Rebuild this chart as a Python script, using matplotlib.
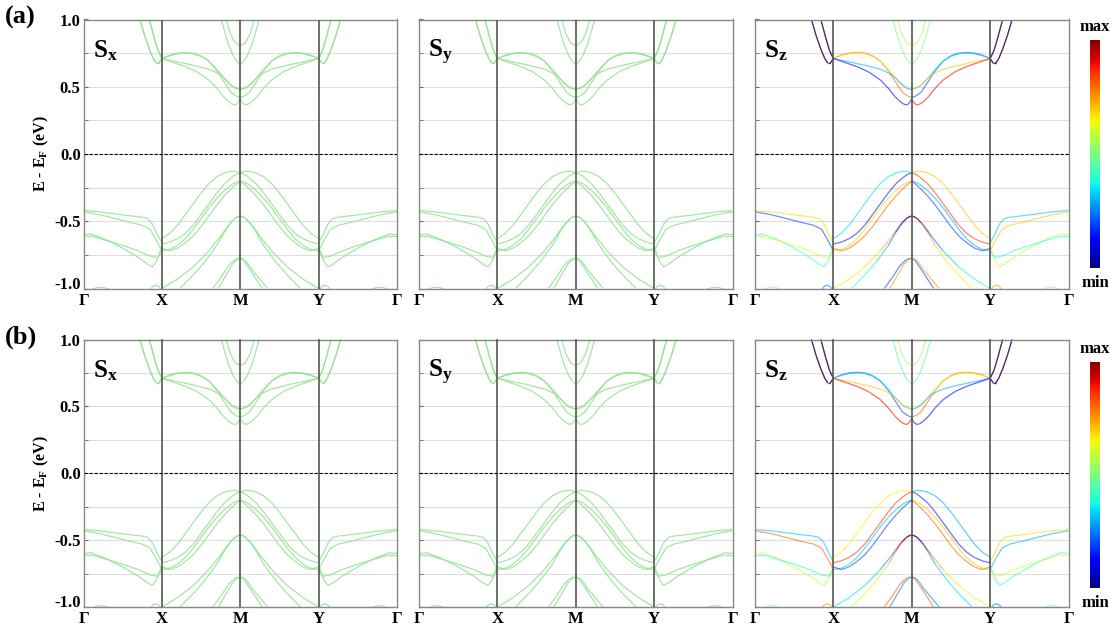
import numpy as np
import matplotlib
matplotlib.use('Agg')
import matplotlib.pyplot as plt
import matplotlib.transforms as mtransforms
from matplotlib.collections import LineCollection

plt.rcParams['font.family'] = ['Liberation Serif', 'DejaVu Serif']
plt.rcParams['font.weight'] = 'bold'
plt.rcParams['mathtext.fontset'] = 'custom'
plt.rcParams['mathtext.rm'] = 'Liberation Serif:bold'
plt.rcParams['mathtext.bf'] = 'Liberation Serif:bold'
plt.rcParams['mathtext.it'] = 'Liberation Serif:bold'

# k path: Γ=0, X=1, M=2, Y=3, Γ=4
kpath_pos = [0, 1, 2, 3, 4]
kpath_lab = ['Γ', 'X', 'M', 'Y', 'Γ']
yticks = [-1.0, -0.5, 0.0, 0.5, 1.0]
spin_labels = ['$\\mathbf{S_x}$', '$\\mathbf{S_y}$', '$\\mathbf{S_z}$']

# ---- conduction bands ----
# steep arms next to X (and Y)
cx_out_k = [0.72, 0.78, 0.84, 0.89, 0.93, 0.96, 1.0]
cx_out_e = [1.0, 0.88, 0.78, 0.71, 0.675, 0.675, 0.71]
cx_in_k = [0.84, 0.90, 0.95, 1.0]
cx_in_e = [1.0, 0.87, 0.77, 0.71]
cy_out_k = [3.28, 3.22, 3.16, 3.11, 3.07, 3.04, 3.0]
cy_in_k = [3.16, 3.10, 3.05, 3.0]

# X-M (and M-Y) conduction bands
c1_k = [1.0, 1.1, 1.2, 1.3, 1.4, 1.5, 1.6, 1.7, 1.8, 1.88, 1.95, 2.0]
c1_kr = [3.0, 2.9, 2.8, 2.7, 2.6, 2.5, 2.4, 2.3, 2.2, 2.12, 2.05, 2.0]
c1a_e = [0.71, 0.735, 0.75, 0.755, 0.75, 0.73, 0.69, 0.62, 0.53, 0.46, 0.43, 0.42]
c1b_e = [0.71, 0.73, 0.745, 0.75, 0.745, 0.725, 0.69, 0.63, 0.56, 0.51, 0.49, 0.48]
c2_k = [1.0, 1.2, 1.4, 1.6, 1.75, 1.85, 1.93, 2.0]
c2_kr = [3.0, 2.8, 2.6, 2.4, 2.25, 2.15, 2.07, 2.0]
c2_e = [0.71, 0.685, 0.66, 0.63, 0.59, 0.53, 0.49, 0.48]
c3_k = [1.0, 1.15, 1.3, 1.45, 1.6, 1.7, 1.78, 1.85, 1.9, 1.94, 1.97, 2.0]
c3_kr = [3.0, 2.85, 2.7, 2.55, 2.4, 2.3, 2.22, 2.15, 2.1, 2.06, 2.03, 2.0]
c3_e = [0.71, 0.68, 0.65, 0.61, 0.55, 0.49, 0.43, 0.39, 0.37, 0.365, 0.38, 0.41]

# parabolas at M
u1_k = [1.82, 1.87, 1.92, 1.96, 2.0, 2.04, 2.08, 2.13, 2.18]
u1_e = [1.0, 0.9, 0.84, 0.815, 0.81, 0.815, 0.84, 0.9, 1.0]
u2_k = [1.76, 1.81, 1.86, 1.91, 1.96, 2.0, 2.04, 2.09, 2.14, 2.19, 2.24]
u2_e = [1.0, 0.89, 0.8, 0.73, 0.685, 0.67, 0.685, 0.73, 0.8, 0.89, 1.0]

# ---- valence bands ----
# Γ-X (and Y-Γ)
vg1_k = [0.0, 0.2, 0.4, 0.6, 0.75, 0.82, 0.88, 0.94, 1.0]
vg1_kr = [4.0, 3.8, 3.6, 3.4, 3.25, 3.18, 3.12, 3.06, 3.0]
vg1_e = [-0.42, -0.43, -0.445, -0.46, -0.47, -0.48, -0.52, -0.6, -0.66]
vg2_k = [0.0, 0.2, 0.4, 0.6, 0.75, 0.85, 0.92, 1.0]
vg2_kr = [4.0, 3.8, 3.6, 3.4, 3.25, 3.15, 3.08, 3.0]
vg2_e = [-0.43, -0.45, -0.48, -0.51, -0.53, -0.56, -0.63, -0.72]
vg3_k = [0.0, 0.1, 0.3, 0.5, 0.7, 0.82, 0.88, 0.93, 1.0]
vg3_kr = [4.0, 3.9, 3.7, 3.5, 3.3, 3.18, 3.12, 3.07, 3.0]
vg3_e = [-0.6, -0.595, -0.64, -0.7, -0.77, -0.82, -0.84, -0.8, -0.69]
vg4_k = [0.0, 0.1, 0.3, 0.5, 0.7, 0.85, 0.95, 1.0]
vg4_kr = [4.0, 3.9, 3.7, 3.5, 3.3, 3.15, 3.05, 3.0]
vg4_e = [-0.61, -0.61, -0.645, -0.68, -0.72, -0.76, -0.77, -0.72]

# X-M (and M-Y) upper valence group
vx_k = [1.0, 1.1, 1.2, 1.3, 1.4, 1.5, 1.6, 1.7, 1.8, 1.9, 1.95, 2.0]
vx_kr = [3.0, 2.9, 2.8, 2.7, 2.6, 2.5, 2.4, 2.3, 2.2, 2.1, 2.05, 2.0]
pa_e = [-0.63, -0.59, -0.53, -0.45, -0.37, -0.29, -0.22, -0.17, -0.14, -0.128, -0.13, -0.14]
pb_e = [-0.67, -0.655, -0.63, -0.59, -0.53, -0.45, -0.37, -0.29, -0.22, -0.17, -0.15, -0.14]
qa_e = [-0.72, -0.71, -0.68, -0.63, -0.56, -0.48, -0.40, -0.33, -0.27, -0.225, -0.21, -0.2]
qb_e = [-0.70, -0.72, -0.70, -0.66, -0.61, -0.54, -0.46, -0.38, -0.31, -0.25, -0.225, -0.2]

# bands peaking at -0.46 eV at M
ra_k = [1.0, 1.2, 1.4, 1.6, 1.75, 1.85, 1.93, 2.0]
ra_kr = [3.0, 2.8, 2.6, 2.4, 2.25, 2.15, 2.07, 2.0]
ra_e = [-1.0, -0.93, -0.84, -0.72, -0.61, -0.53, -0.48, -0.46]
rb_k = [1.23, 1.4, 1.55, 1.7, 1.8, 1.88, 1.95, 2.0]
rb_kr = [2.77, 2.6, 2.45, 2.3, 2.2, 2.12, 2.05, 2.0]
rb_e = [-1.0, -0.9, -0.8, -0.68, -0.58, -0.51, -0.47, -0.46]

# bands peaking at -0.775 eV at M
w1_k = [1.65, 1.75, 1.85, 1.92, 1.97, 2.0, 2.04, 2.1, 2.18, 2.28]
w1_e = [-1.0, -0.92, -0.83, -0.79, -0.775, -0.775, -0.79, -0.84, -0.91, -1.0]
w2_k = [1.72, 1.82, 1.9, 1.96, 2.0, 2.03, 2.08, 2.15, 2.25, 2.35]
w2_e = [-1.0, -0.9, -0.82, -0.785, -0.775, -0.78, -0.8, -0.86, -0.93, -1.0]

# small humps at the bottom edge
hx_k = [0.84, 0.88, 0.92, 0.96, 1.0]
hy_k = [3.16, 3.12, 3.08, 3.04, 3.0]
hx_e = [-1.02, -0.985, -0.975, -0.985, -1.02]
hg_k = [0.1, 0.16, 0.22, 0.28, 0.34]
hg_kr = [3.9, 3.84, 3.78, 3.72, 3.66]
hg_e = [-1.01, -0.995, -0.99, -0.995, -1.01]

# Sz values (0 = min, 1 = max) for panel (a) and panel (b)
sz_ra_a = [0.65, 0.65, 0.65, 0.7, 0.75, 0.85, 0.95, 1.0]
sz_rb_a = [0.4, 0.4, 0.35, 0.3, 0.2, 0.1, 0.05, 0.0]
sz_ra_b = [0.35, 0.35, 0.35, 0.3, 0.25, 0.15, 0.05, 0.0]
sz_rb_b = [0.6, 0.6, 0.65, 0.7, 0.8, 0.9, 0.95, 1.0]

# (k, E, Sz in (a), Sz in (b))
bands = [
    (cx_out_k, cx_out_e, 1.0, 1.0), (cx_out_k, cx_out_e, 0.0, 0.0),
    (cx_in_k, cx_in_e, 1.0, 1.0), (cx_in_k, cx_in_e, 0.0, 0.0),
    (cy_out_k, cx_out_e, 1.0, 1.0), (cy_out_k, cx_out_e, 0.0, 0.0),
    (cy_in_k, cx_in_e, 1.0, 1.0), (cy_in_k, cx_in_e, 0.0, 0.0),
    (c1_k, c1a_e, 0.8, 0.2), (c1_kr, c1a_e, 0.2, 0.8),
    (c1_k, c1b_e, 0.65, 0.35), (c1_kr, c1b_e, 0.35, 0.65),
    (c2_k, c2_e, 0.3, 0.7), (c2_kr, c2_e, 0.7, 0.3),
    (c3_k, c3_e, 0.1, 0.9), (c3_kr, c3_e, 0.9, 0.1),
    (u1_k, u1_e, 0.55, 0.55), (u2_k, u2_e, 0.5, 0.45),
    (vg1_k, vg1_e, 0.68, 0.32), (vg1_kr, vg1_e, 0.32, 0.68),
    (vg2_k, vg2_e, 0.2, 0.8), (vg2_kr, vg2_e, 0.7, 0.3),
    (vg3_k, vg3_e, 0.42, 0.58), (vg3_kr, vg3_e, 0.58, 0.42),
    (vg4_k, vg4_e, 0.6, 0.4), (vg4_kr, vg4_e, 0.4, 0.6),
    (vx_k, pa_e, 0.35, 0.65), (vx_kr, pa_e, 0.7, 0.3),
    (vx_k, pb_e, 0.15, 0.85), (vx_kr, pb_e, 0.85, 0.15),
    (vx_k, qa_e, 0.68, 0.32), (vx_kr, qa_e, 0.3, 0.7),
    (vx_k, qb_e, 0.8, 0.2), (vx_kr, qb_e, 0.2, 0.8),
    (ra_k, ra_e, sz_ra_a, sz_ra_b), (ra_kr, ra_e, sz_rb_a, sz_rb_b),
    (rb_k, rb_e, sz_rb_a, sz_rb_b), (rb_kr, rb_e, sz_ra_a, sz_ra_b),
    (w1_k, w1_e, 0.2, 0.8), (w2_k, w2_e, 0.75, 0.25),
    (hx_k, hx_e, 0.25, 0.75), (hy_k, hx_e, 0.75, 0.25),
    (hg_k, hg_e, 0.5, 0.5), (hg_kr, hg_e, 0.5, 0.5),
]

GREEN = '#93e393'
cmap = plt.get_cmap('jet')


def draw_panel(ax, row, comp):
    for k, e, sa, sb in bands:
        k = np.asarray(k, float)
        e = np.asarray(e, float)
        pts = np.column_stack([k, e])
        segs = np.stack([pts[:-1], pts[1:]], axis=1)
        if comp < 2:
            lc = LineCollection(segs, colors=GREEN, lw=0.9, alpha=0.85)
        else:
            s = np.broadcast_to(np.asarray(sa if row == 0 else sb, float), k.shape)
            lc = LineCollection(segs, cmap=cmap, norm=plt.Normalize(0, 1),
                                lw=0.9, alpha=0.6)
            lc.set_array(0.5 * (s[:-1] + s[1:]))
        ax.add_collection(lc)
    ax.set_xlim(0, 4)
    ax.set_ylim(-1, 1)
    for kv in kpath_pos[1:-1]:
        ax.axvline(kv, color='#555555', lw=1.2, zorder=3)
    ax.axhline(0, color='black', ls='--', lw=0.8, dashes=(3, 1.5), zorder=3)
    ax.set_yticks(np.arange(-1, 1.01, 0.25), minor=True)
    ax.set_yticks(yticks)
    ax.grid(which='both', axis='y', color='#dedede', lw=0.8, zorder=0)
    ax.set_axisbelow(True)
    ax.tick_params(axis='y', which='both', direction='in', length=3,
                   color='#666666', labelsize=12, pad=2)
    ax.set_xticks(kpath_pos)
    ax.set_xticklabels(kpath_lab, fontsize=12, fontweight='bold')
    ax.tick_params(axis='x', length=0, pad=3)
    if comp == 0:
        ax.set_yticklabels([f'{v:.1f}' for v in yticks], fontweight='bold')
        # lift the bottom label a little so it sits clear of the Γ label
        lab = ax.get_yticklabels()[0]
        lab.set_transform(lab.get_transform() + mtransforms.ScaledTranslation(
            0, 4 / 72, ax.figure.dpi_scale_trans))
        ax.set_ylabel('E - E$_\\mathbf{F}$ (eV)', fontsize=11.5, fontweight='bold',
                      labelpad=2)
    else:
        ax.set_yticklabels([])
    for sp in ax.spines.values():
        sp.set_color('#888888')
        sp.set_linewidth(1.0)
    ax.text(0.03, 0.93, spin_labels[comp], transform=ax.transAxes,
            fontsize=18, ha='left', va='top')


W, H = 1119, 633
fig = plt.figure(figsize=(W / 100, H / 100), dpi=100)
lefts = [83.5, 419, 755]
rows = [(19.5, 288.5), (339.5, 607)]
cbar_rows = [(40, 268), (362, 588)]
for r, (top, bot) in enumerate(rows):
    for c, lx in enumerate(lefts):
        ax = fig.add_axes([lx / W, 1 - bot / H, 313.5 / W, (bot - top) / H])
        draw_panel(ax, r, c)
    ct, cb = cbar_rows[r]
    cax = fig.add_axes([1090 / W, 1 - cb / H, 10 / W, (cb - ct) / H])
    grad = np.linspace(0, 1, 256).reshape(-1, 1)
    cax.imshow(grad, aspect='auto', cmap=cmap, origin='lower')
    cax.set_xticks([])
    cax.set_yticks([])
    for sp in cax.spines.values():
        sp.set_visible(False)
    fig.text(1095 / W, 1 - (ct - 13) / H, 'max', ha='center', va='center',
             fontsize=12, fontweight='bold')
    fig.text(1095 / W, 1 - (cb + 15) / H, 'min', ha='center', va='center',
             fontsize=12, fontweight='bold')
    fig.text(5 / W, 1 - (top - 2) / H, '(a)' if r == 0 else '(b)',
             ha='left', va='center', fontsize=19, fontweight='bold')

fig.savefig('out.png', dpi=100)
